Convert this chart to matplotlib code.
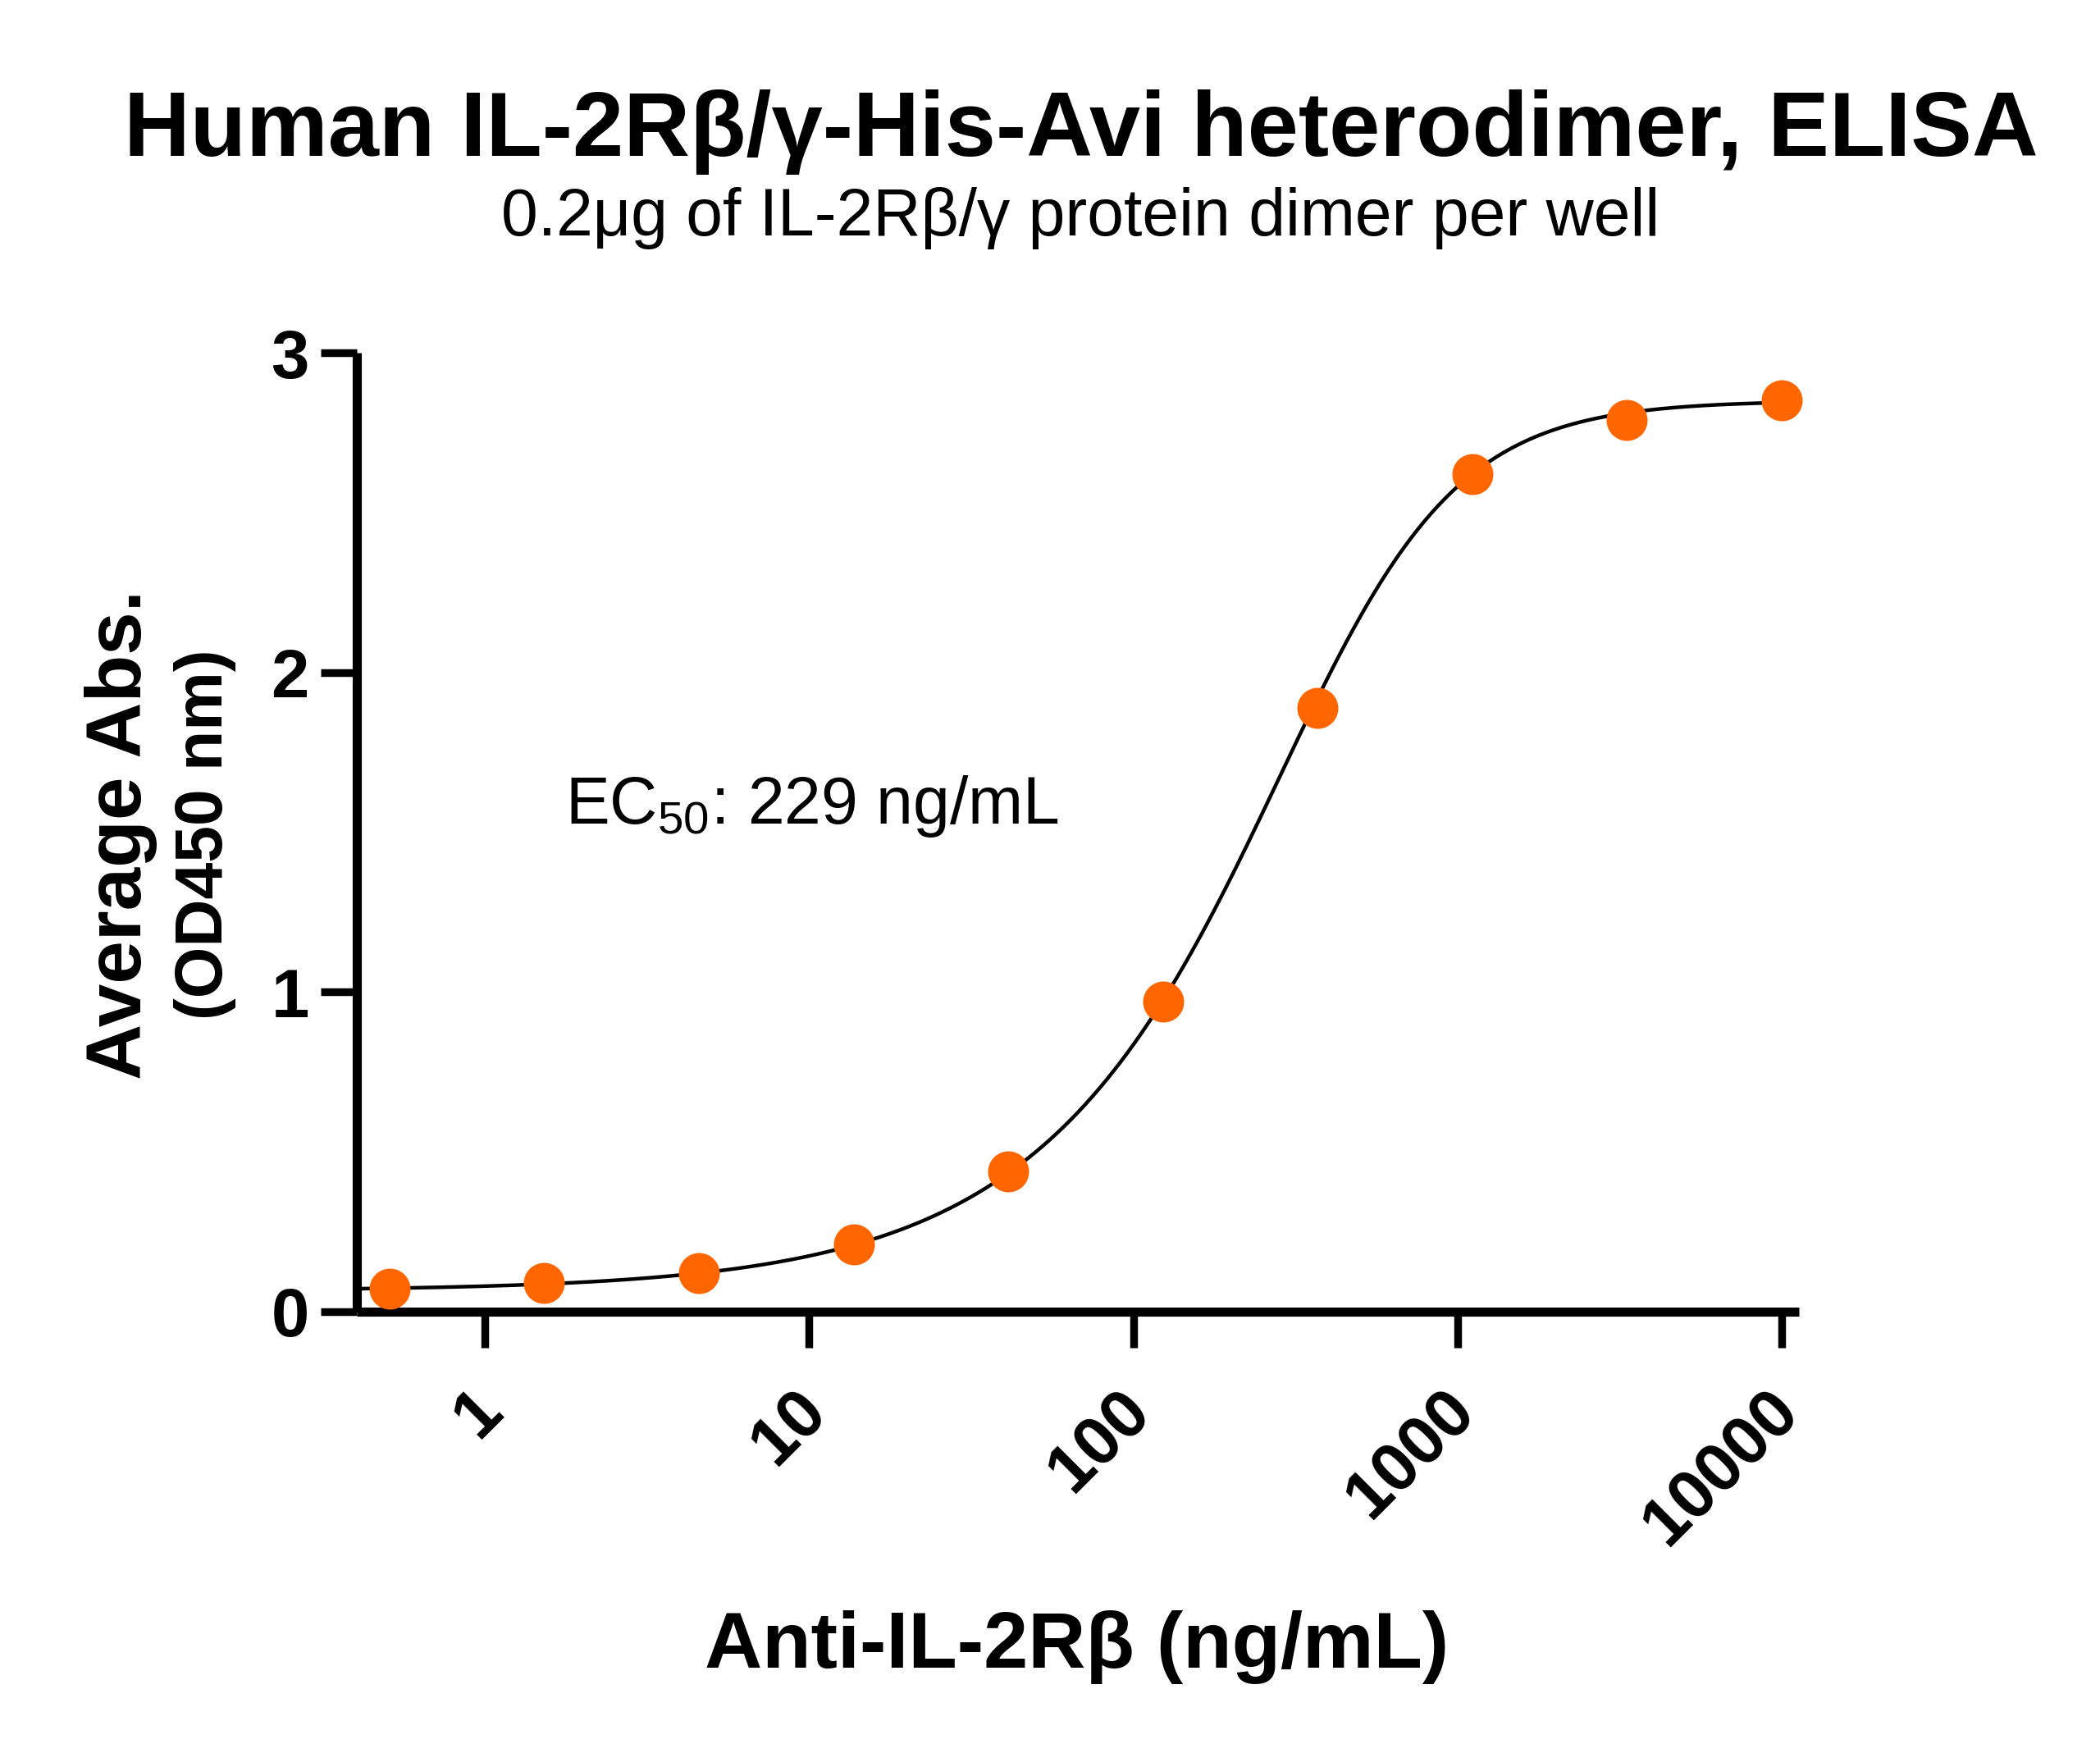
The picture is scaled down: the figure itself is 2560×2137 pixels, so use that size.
import numpy as np
import matplotlib
matplotlib.use("Agg")
import matplotlib.pyplot as plt
import matplotlib.transforms as mtransforms
from matplotlib.ticker import NullLocator

plt.rcParams['font.family'] = ['Liberation Sans', 'DejaVu Sans']
plt.rcParams['mathtext.fontset'] = 'custom'
plt.rcParams['mathtext.rm'] = 'Liberation Sans'
plt.rcParams['mathtext.default'] = 'regular'

# data (3-fold dilution series)
conc = [0.508, 1.524, 4.572, 13.72, 41.15, 123.5, 370.4, 1111, 3333, 10000]
od450 = [0.072, 0.09, 0.12, 0.21, 0.44, 0.97, 1.89, 2.62, 2.79, 2.85]

# fitted curve parameters (asymmetric logistic)
bottom, top, mid, hill, asym = 0.065, 2.85, 422.0, 1.73, 0.5

xticks = [1, 10, 100, 1000, 10000]
xticklabels = ['1', '10', '100', '1000', '10000']
yticks = [0, 1, 2, 3]

title = 'Human IL-2R\u03b2/\u03b3-His-Avi heterodimer, ELISA'
subtitle = '0.2\u03bcg of IL-2R\u03b2/\u03b3 protein dimer per well'
xlabel = 'Anti-IL-2R\u03b2 (ng/mL)'
ec50_text = 'EC$_{50}$: 229 ng/mL'

W, H = 2560, 2137
fig = plt.figure(figsize=(W / 200, H / 200), dpi=200)

def fx(x):
    return x / W

def fy(y):
    return 1 - y / H

ax = fig.add_axes([fx(435), fy(1599), fx(2193) - fx(435), fy(430) - fy(1599)])

xmin, xmax = 10 ** -0.395, 10 ** 4.053
xs = np.logspace(np.log10(xmin), 4, 400)
ys = bottom + (top - bottom) / (1 + (mid / xs) ** hill) ** asym
ax.plot(xs, ys, color='black', lw=1.6, zorder=2)
ax.plot(conc, od450, 'o', color='#FF6600', ms=18, mec='none', zorder=3, clip_on=False)

ax.set_xscale('log')
ax.set_xlim(xmin, xmax)
ax.set_ylim(0, 3)

for s in ['top', 'right']:
    ax.spines[s].set_visible(False)
for s in ['left', 'bottom']:
    ax.spines[s].set_linewidth(4)
    ax.spines[s].set_capstyle('butt')

ax.set_xticks(xticks)
ax.set_xticklabels(xticklabels, rotation=45, ha='right')
ax.xaxis.set_minor_locator(NullLocator())
ax.set_yticks(yticks)
ax.tick_params(axis='both', length=16, width=3.4, labelsize=30)
ax.tick_params(axis='x', pad=13)
ax.tick_params(axis='y', pad=5)
for lab in ax.get_xticklabels() + ax.get_yticklabels():
    lab.set_fontweight('bold')
off = mtransforms.ScaledTranslation(13 / 72, 0, fig.dpi_scale_trans)
for lab in ax.get_xticklabels():
    lab.set_transform(lab.get_transform() + off)

fig.text(fx(1318), fy(190), title, ha='center', va='baseline', fontsize=40.3, fontweight='bold')
fig.text(fx(1317), fy(287), subtitle, ha='center', va='baseline', fontsize=29)
fig.text(fx(1313), fy(2033), xlabel, ha='center', va='baseline', fontsize=35, fontweight='bold')
fig.text(fx(148), fy(1017), 'Average Abs.', rotation=90, ha='center', va='center',
         fontsize=34, fontweight='bold')
fig.text(fx(250), fy(1017), '(OD450 nm)', rotation=90, ha='center', va='center',
         fontsize=29, fontweight='bold')
fig.text(fx(689), fy(1004), ec50_text, ha='left', va='baseline', fontsize=29)

fig.savefig('out.png', dpi=200, facecolor='white')
